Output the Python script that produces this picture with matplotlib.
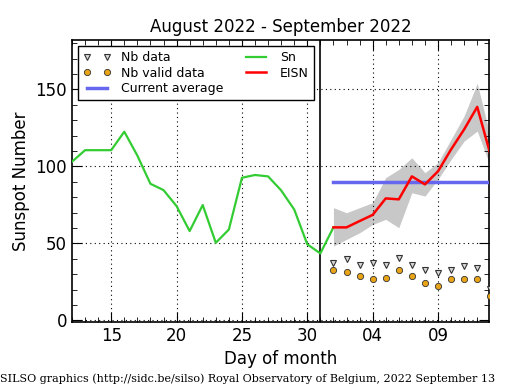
import matplotlib
matplotlib.use("Agg")
import matplotlib.pyplot as plt
import numpy as np

# Daily sunspot number (Sn), Aug 12 .. Sep 1 (day index continues past 31)
sn_days = list(range(12, 33))
sn_vals = [103, 110.5, 110.5, 110.5, 122.5, 107, 88.7, 84.6, 74.2, 58, 74.9,
           50.4, 59, 92.6, 94.4, 93.5, 84.4, 72, 49.4, 43.5, 60.4]

# Estimated ISN (EISN), Sep 1 .. Sep 13 (days 32..44)
eisn_days = list(range(32, 45))
eisn_vals = [60.4, 60.4, 64.5, 68.5, 79.2, 78.6, 93.5, 88.3, 96.8, 111, 124, 138.6, 108]
eisn_upper = [73.2, 69.9, 73.2, 76.4, 92.7, 98, 105.6, 95.9, 102.4, 117.5, 132.7, 153.9, 119.7]
eisn_lower = [48.3, 52.6, 56.9, 62.3, 65.6, 60.2, 82.9, 80.7, 91.6, 104.5, 116.4, 122.9, 100.2]

nb_data = [37, 40, 35.7, 37, 35.7, 40.5, 35.7, 33, 31, 33, 35.2, 34.2, 20.6]
nb_valid = [33, 31.4, 28.8, 26.6, 27.3, 33, 28.8, 24, 22.3, 26.6, 27, 26.6, 15.8]

current_average = 90.0
avg_days = [32, 44]

xtick_pos = [15, 20, 25, 30, 35, 40]
xtick_labels = ['15', '20', '25', '30', '04', '09']
month_boundary = 31

fig = plt.figure(figsize=(5.15, 3.9), dpi=100)
ax = fig.add_axes([0.1398, 0.1744, 0.8097, 0.723])

ax.fill_between(eisn_days, eisn_lower, eisn_upper, color='#c8c8c8', lw=0, zorder=1)
ax.plot(eisn_days, nb_data, 'v', ms=4.5, mfc='#d9d9d9', mec='#333333',
        mew=0.8, ls='none', label='Nb data', zorder=4)
ax.plot(eisn_days, nb_valid, 'o', ms=4.5, mfc='#e8a317', mec='#333333',
        mew=0.6, ls='none', label='Nb valid data', zorder=4)
ax.plot(avg_days, [current_average] * 2, color='#6666ee', lw=2.5,
        label='Current average', zorder=3)
ax.plot(sn_days, sn_vals, color='#33cc33', lw=1.6, label='Sn', zorder=3)
ax.plot(eisn_days, eisn_vals, color='red', lw=1.8, label='EISN', zorder=3)
ax.axvline(month_boundary, color='black', lw=1.2, zorder=2)

ax.set_xlim(12, 43.9)
ax.set_ylim(-1, 182)
ax.set_xticks(xtick_pos)
ax.set_xticklabels(xtick_labels)
ax.set_xticks(np.arange(12, 44, 1), minor=True)
ax.set_yticks([0, 50, 100, 150])
ax.set_yticks(np.arange(0, 181, 10), minor=True)
ax.tick_params(which='both', direction='in', top=True, right=True, labelsize=12)
ax.tick_params(which='major', length=7, width=0.8)
ax.tick_params(which='minor', length=3.5, width=0.6)
ax.grid(True, which='major', color='black', ls=(0, (1, 3)), lw=0.8)
for s in ax.spines.values():
    s.set_linewidth(1.2)

ax.set_title('August 2022 - September 2022', fontsize=12)
ax.set_xlabel('Day of month', fontsize=12)
ax.set_ylabel('Sunspot Number', fontsize=12)

leg = ax.legend(loc='upper left', ncol=2, fontsize=9, numpoints=2, fancybox=False,
                framealpha=1, edgecolor='black', borderaxespad=0.5,
                handlelength=2.2, columnspacing=1.55, labelspacing=0.2)
leg.get_frame().set_linewidth(1.0)

fig.text(0.0, 0.015, 'SILSO graphics (http://sidc.be/silso) Royal Observatory of Belgium, 2022 September 13',
         family='DejaVu Serif', fontsize=8, ha='left', va='bottom')

fig.savefig('out.png', dpi=100)
